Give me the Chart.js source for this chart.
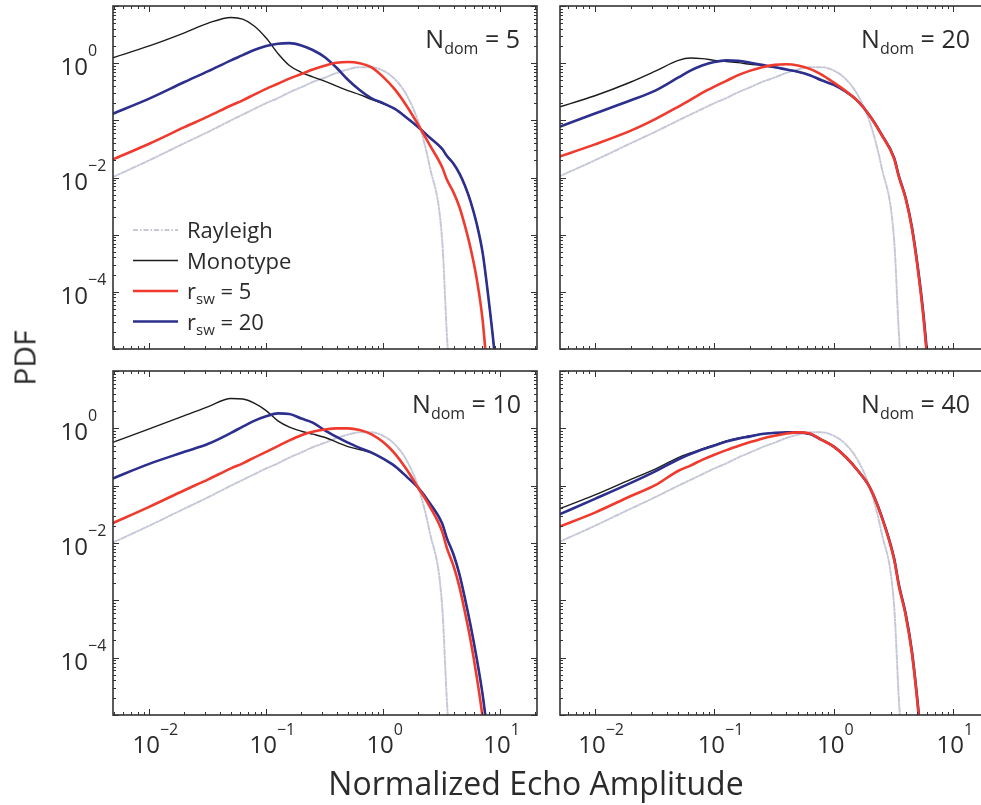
<!DOCTYPE html>
<html>
<head>
<meta charset="utf-8">
<title>PDF of normalized echo amplitude</title>
<script src="https://cdn.jsdelivr.net/npm/chart.js@4.4.1/dist/chart.umd.min.js"></script>
<style>
  html, body { margin: 0; padding: 0; background: #fff; }
  body { position: relative; width: 981px; height: 805px; overflow: hidden; font-family: "Open Sans", sans-serif; color: #2b2b2b; }
  canvas { position: absolute; left: 0; top: 0; }
  #ytitle { position: absolute; left: 24px; top: 358px; transform: translate(-50%, -50%) rotate(-90deg); font-size: 30px; }
  #xtitle { position: absolute; left: 536px; top: 767px; transform: translateX(-50%); font-size: 32px; line-height: 32px; white-space: nowrap; }
</style>
</head>
<body>
<canvas id="c5" width="1000" height="805"></canvas>
<canvas id="c20" width="1000" height="805"></canvas>
<canvas id="c10" width="1000" height="805"></canvas>
<canvas id="c40" width="1000" height="805"></canvas>
<div id="ytitle">PDF</div>
<div id="xtitle">Normalized Echo Amplitude</div>
<script>
// normalized echo amplitude (x) shared by every curve
const amplitude = [0.0048, 0.01, 0.02, 0.032, 0.05, 0.063, 0.079, 0.1, 0.126, 0.158, 0.2, 0.25, 0.32, 0.4, 0.5, 0.63, 0.79, 1, 1.26, 1.58, 2, 2.5, 3.2, 3.5, 4, 4.5, 5, 5.6, 6.3, 7.1, 7.9, 8.9, 10];

// Rayleigh reference, same in all panels
const rayleigh = [0.01, 0.02, 0.0398, 0.063, 0.1, 0.126, 0.158, 0.2, 0.245, 0.309, 0.38, 0.468, 0.562, 0.676, 0.776, 0.851, 0.851, 0.741, 0.525, 0.282, 0.0933, 0.0158, 7.9e-4, 2.0e-5, 3.2e-7, null, null, null, null, null, null, null, null];

// N_dom = 5
const monoN5 = [1.23, 2.0, 3.39, 5.01, 6.31, 5.89, 4.47, 2.75, 1.48, 0.912, 0.692, 0.575, 0.479, 0.398, 0.331, 0.282, 0.234, 0.195, 0.158, 0.112, 0.0759, 0.0501, 0.0316, 0.024, 0.0174, 0.0117, 0.00724, 0.0038, 0.00158, 4.8e-4, 8.9e-5, 1.0e-5, 6.3e-7];
const rsw5N5 = [0.0204, 0.0389, 0.0759, 0.117, 0.182, 0.224, 0.282, 0.355, 0.437, 0.537, 0.646, 0.776, 0.912, 1.02, 1.05, 1.0, 0.851, 0.575, 0.347, 0.182, 0.0832, 0.0372, 0.0151, 0.00933, 0.0055, 0.00302, 0.00145, 5.75e-4, 1.74e-4, 3.16e-5, 2.5e-6, null, null];
const rsw20N5 = [0.129, 0.240, 0.468, 0.724, 1.12, 1.38, 1.70, 2.0, 2.19, 2.24, 2.04, 1.70, 1.26, 0.832, 0.513, 0.339, 0.245, 0.2, 0.158, 0.112, 0.0759, 0.0501, 0.0316, 0.024, 0.0174, 0.0117, 0.00724, 0.0038, 0.00158, 4.8e-4, 8.9e-5, 1.0e-5, 6.3e-7];

// N_dom = 20
const monoN20 = [0.166, 0.269, 0.468, 0.724, 1.12, 1.23, 1.20, 1.12, 1.07, 1.02, 0.955, 0.912, 0.851, 0.776, 0.708, 0.617, 0.501, 0.417, 0.316, 0.219, 0.120, 0.0575, 0.0219, 0.0107, 0.00437, 0.00138, 3.16e-4, 4.47e-5, 3.16e-6, null, null, null, null];
const rsw5N20 = [0.0224, 0.038, 0.0661, 0.105, 0.174, 0.229, 0.302, 0.389, 0.490, 0.617, 0.741, 0.851, 0.933, 0.955, 0.912, 0.794, 0.631, 0.457, 0.324, 0.219, 0.120, 0.0565, 0.0213, 0.0103, 0.0042, 0.0013, 2.9e-4, 3.9e-5, 2.5e-6, null, null, null, null];
const rsw20N20 = [0.0741, 0.132, 0.224, 0.331, 0.562, 0.741, 0.912, 1.05, 1.12, 1.10, 1.02, 0.933, 0.851, 0.776, 0.708, 0.617, 0.501, 0.417, 0.316, 0.219, 0.120, 0.0575, 0.0219, 0.0107, 0.00437, 0.00138, 3.16e-4, 4.47e-5, 3.16e-6, null, null, null, null];

// N_dom = 10
const monoN10 = [0.562, 0.977, 1.66, 2.40, 3.31, 3.24, 2.75, 2.04, 1.35, 1.05, 0.891, 0.794, 0.692, 0.575, 0.479, 0.427, 0.372, 0.295, 0.219, 0.145, 0.0912, 0.0501, 0.0219, 0.0123, 0.0063, 0.00282, 0.0011, 3.63e-4, 1.0e-4, 2.24e-5, 4.0e-6, null, null];
const rsw5N10 = [0.0219, 0.0427, 0.0832, 0.129, 0.2, 0.245, 0.309, 0.389, 0.490, 0.617, 0.759, 0.871, 0.955, 1.0, 1.0, 0.933, 0.794, 0.575, 0.363, 0.195, 0.0912, 0.0437, 0.0158, 0.00832, 0.00398, 0.0017, 6.3e-4, 2.0e-4, 4.8e-5, 8.9e-6, 1.26e-6, null, null];
const rsw20N10 = [0.132, 0.240, 0.389, 0.537, 0.832, 1.07, 1.35, 1.62, 1.82, 1.78, 1.48, 1.26, 0.912, 0.708, 0.562, 0.457, 0.380, 0.295, 0.219, 0.145, 0.0912, 0.0501, 0.0219, 0.0123, 0.0063, 0.00282, 0.0011, 3.63e-4, 1.0e-4, 2.24e-5, 4.0e-6, null, null];

// N_dom = 40
const monoN40 = [0.038, 0.0692, 0.129, 0.195, 0.309, 0.372, 0.437, 0.513, 0.603, 0.676, 0.741, 0.794, 0.832, 0.851, 0.851, 0.794, 0.631, 0.479, 0.316, 0.186, 0.0933, 0.0302, 0.00537, 0.00191, 5.75e-4, 1.32e-4, 1.91e-5, 1.58e-6, null, null, null, null, null];
const rsw5N40 = [0.0186, 0.0339, 0.0661, 0.102, 0.182, 0.224, 0.282, 0.347, 0.417, 0.490, 0.575, 0.661, 0.741, 0.813, 0.851, 0.813, 0.631, 0.479, 0.316, 0.186, 0.0933, 0.0292, 0.0051, 0.0018, 5.4e-4, 1.22e-4, 1.75e-5, 1.4e-6, null, null, null, null, null];
const rsw20N40 = [0.0302, 0.0589, 0.112, 0.178, 0.288, 0.355, 0.427, 0.501, 0.589, 0.661, 0.724, 0.794, 0.832, 0.851, 0.851, 0.794, 0.631, 0.479, 0.316, 0.186, 0.0933, 0.0302, 0.00537, 0.00191, 5.75e-4, 1.32e-4, 1.91e-5, 1.58e-6, null, null, null, null, null];

// tick labels
const xTickValues = [0.01, 0.1, 1, 10];
const xTickExps = ['\u22122', '\u22121', '0', '1'];
const yTickValues = [1, 0.01, 1e-4];
const yTickExps = ['0', '\u22122', '\u22124'];

const FONT = '"Open Sans", sans-serif';
const INK = '#2b2b2b';

function pts(arr) {
  return amplitude.map((a, i) => ({ x: a, y: arr[i] }));
}

// draws text runs, sub/superscript runs shifted by "shift"
function drawRuns(ctx, runs, x, y, size, smallSize, shift, align) {
  const font = s => (s ? smallSize : size) + 'px ' + FONT;
  let total = 0;
  for (const [t, s] of runs) { ctx.font = font(s); total += ctx.measureText(t).width; }
  let cx = align === 'right' ? x - total : x;
  ctx.textAlign = 'left';
  ctx.textBaseline = 'alphabetic';
  for (const [t, s] of runs) {
    ctx.font = font(s);
    ctx.fillText(t, cx, s ? y + shift : y);
    cx += ctx.measureText(t).width;
  }
}

const framePlugin = {
  id: 'frame',
  afterDraw(chart, args, opts) {
    const { ctx, chartArea: a } = chart;
    const xs = chart.scales.x, ys = chart.scales.y;
    ctx.save();

    // inward ticks on all four sides
    ctx.strokeStyle = '#333';
    ctx.lineWidth = 1;
    ctx.beginPath();
    for (let d = -3; d <= 1; d++) {
      for (let m = 1; m <= 9; m++) {
        const v = m * Math.pow(10, d);
        if (v < xs.min || v > xs.max) continue;
        const px = Math.round(xs.getPixelForValue(v)) + 0.5;
        const len = m === 1 ? 6 : 3;
        ctx.moveTo(px, a.bottom); ctx.lineTo(px, a.bottom - len);
        ctx.moveTo(px, a.top); ctx.lineTo(px, a.top + len);
      }
    }
    for (let d = -6; d <= 1; d++) {
      for (let m = 1; m <= 9; m++) {
        const v = m * Math.pow(10, d);
        if (v < ys.min || v > ys.max) continue;
        const py = Math.round(ys.getPixelForValue(v)) + 0.5;
        const len = m === 1 ? 6 : 3;
        ctx.moveTo(a.left, py); ctx.lineTo(a.left + len, py);
        ctx.moveTo(a.right, py); ctx.lineTo(a.right - len, py);
      }
    }
    ctx.stroke();

    ctx.lineWidth = 1.6;
    ctx.strokeRect(a.left, a.top, a.right - a.left, a.bottom - a.top);

    ctx.fillStyle = INK;
    // tick labels
    if (opts.yLabels) {
      yTickValues.forEach((v, i) => {
        const py = ys.getPixelForValue(v);
        ctx.font = '24px ' + FONT;
        const w = ctx.measureText('10').width;
        drawRuns(ctx, [['10', 0], [yTickExps[i], 1]], a.left - 25 - w, py + 12, 24, 16, -19, 'left');
      });
    }
    if (opts.xLabels) {
      xTickValues.forEach((v, i) => {
        const px = xs.getPixelForValue(v);
        ctx.font = '24px ' + FONT;
        const w = ctx.measureText('10').width;
        drawRuns(ctx, [['10', 0], [xTickExps[i], 1]], px - 3 - w / 2, a.bottom + 38, 24, 16, -18, 'left');
      });
    }

    // panel tag
    drawRuns(ctx, [['N', 0], ['dom', 1], [' = ' + opts.tag, 0]], opts.tagRight, a.top + 42, 25, 16, 6, 'right');

    // legend
    if (opts.legend) {
      chart.data.datasets.forEach((ds, i) => {
        const cy = a.top + 224 + i * 30.5;
        ctx.save();
        ctx.strokeStyle = ds.borderColor;
        ctx.lineWidth = ds.borderWidth;
        ctx.setLineDash(ds.borderDash || []);
        ctx.beginPath();
        ctx.moveTo(a.left + 20, cy);
        ctx.lineTo(a.left + 65, cy);
        ctx.stroke();
        ctx.restore();
        ctx.fillStyle = INK;
        const parts = ds.label.split('_');
        let runs;
        if (parts.length > 1) {
          const sp = parts[1].indexOf(' ');
          runs = [[parts[0], 0], [parts[1].slice(0, sp), 1], [parts[1].slice(sp), 0]];
        } else {
          runs = [[ds.label, 0]];
        }
        drawRuns(ctx, runs, a.left + 74, cy + 8, 22, 15, 5, 'left');
      });
    }
    ctx.restore();
  }
};

const W = 1000, H = 805;
const panels = [
  { id: 'c5', tag: '5', mono: monoN5, r5: rsw5N5, r20: rsw20N5, box: [113, 6, 537, 349], xMin: 0.0049, xMax: 20.7, yLabels: true, xLabels: false, legend: true, tagRight: 520 },
  { id: 'c20', tag: '20', mono: monoN20, r5: rsw5N20, r20: rsw20N20, box: [560, 6, 991, 349], xMin: 0.0051, xMax: 20.7, yLabels: false, xLabels: false, legend: false, tagRight: 970 },
  { id: 'c10', tag: '10', mono: monoN10, r5: rsw5N10, r20: rsw20N10, box: [113, 371, 537, 715], xMin: 0.0049, xMax: 20.7, yLabels: true, xLabels: true, legend: false, tagRight: 521 },
  { id: 'c40', tag: '40', mono: monoN40, r5: rsw5N40, r20: rsw20N40, box: [560, 371, 991, 715], xMin: 0.0051, xMax: 20.7, yLabels: false, xLabels: true, legend: false, tagRight: 970 }
];

panels.forEach(p => {
  new Chart(document.getElementById(p.id), {
    type: 'line',
    data: {
      datasets: [
        { label: 'Rayleigh', data: pts(rayleigh), borderColor: '#c6c8d8', borderWidth: 2, borderDash: [5, 2, 1.5, 2], order: 4 },
        { label: 'Monotype', data: pts(p.mono), borderColor: '#1c1c1c', borderWidth: 1.4, order: 3 },
        { label: 'r_sw = 5', data: pts(p.r5), borderColor: '#ef3a2d', borderWidth: 2.6, order: 1 },
        { label: 'r_sw = 20', data: pts(p.r20), borderColor: '#2c2f8e', borderWidth: 2.6, order: 2 }
      ]
    },
    options: {
      responsive: false,
      animation: false,
      devicePixelRatio: 1,
      layout: { padding: { left: p.box[0], top: p.box[1], right: W - p.box[2], bottom: H - p.box[3] } },
      elements: {
        point: { radius: 0, hoverRadius: 0 },
        line: { cubicInterpolationMode: 'monotone', borderCapStyle: 'round', borderJoinStyle: 'round' }
      },
      plugins: {
        legend: { display: false },
        tooltip: { enabled: false },
        frame: { yLabels: p.yLabels, xLabels: p.xLabels, legend: p.legend, tag: p.tag, tagRight: p.tagRight }
      },
      scales: {
        x: { type: 'logarithmic', min: p.xMin, max: p.xMax, display: false },
        y: { type: 'logarithmic', min: 1e-5, max: 10, display: false }
      }
    },
    plugins: [framePlugin]
  });
});
</script>
</body>
</html>
